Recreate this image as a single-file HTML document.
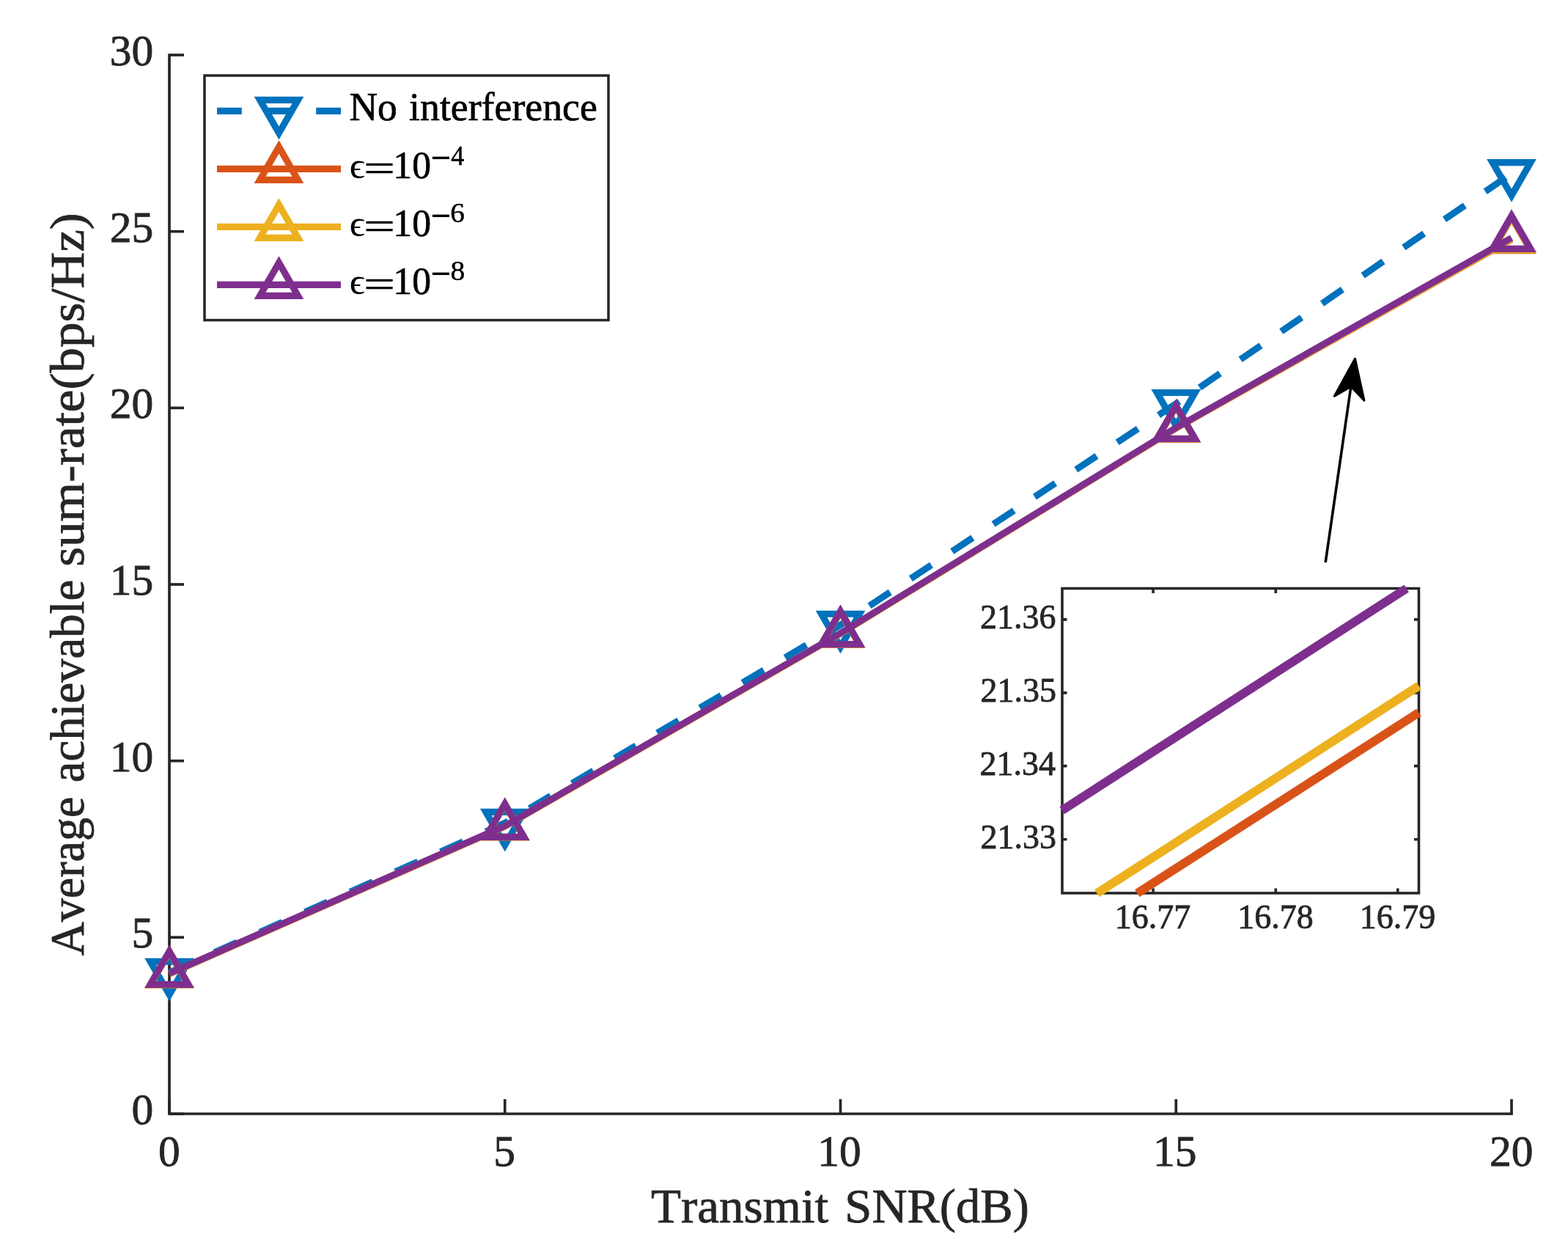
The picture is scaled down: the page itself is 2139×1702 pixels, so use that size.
<!DOCTYPE html><html><head><meta charset="utf-8"><style>html,body{margin:0;padding:0;background:#fff;}svg{display:block;}</style></head><body><svg width="2139" height="1702" viewBox="0 0 2139 1702" style="font-family:&quot;Liberation Serif&quot;,serif;font-kerning:none;font-variant-ligatures:none">
<rect x="0" y="0" width="2139" height="1702" fill="#ffffff"/>
<g stroke="#262626" stroke-width="3.7" fill="none">
<path d="M231,73.2 V1520.85 M229.15,1519 H2063.85"/>
<path d="M231,1519.00 H251"/>
<path d="M231,1278.33 H251"/>
<path d="M231,1037.67 H251"/>
<path d="M231,797.00 H251"/>
<path d="M231,556.33 H251"/>
<path d="M231,315.67 H251"/>
<path d="M231,75.00 H251"/>
<path d="M231.00,1519 V1499"/>
<path d="M688.75,1519 V1499"/>
<path d="M1146.50,1519 V1499"/>
<path d="M1604.25,1519 V1499"/>
<path d="M2062.00,1519 V1499"/>
</g>
<polyline points="231.00,1326.40 688.75,1122.40 1146.50,852.30 1604.25,550.50 2062.00,236.60" fill="none" stroke="#0072BD" stroke-width="9.1" stroke-linejoin="miter" stroke-linecap="butt" stroke-dasharray="33.75 33.75"/>
<polygon points="205.00,1311.39 257.00,1311.39 231.00,1356.42" fill="none" stroke="#0072BD" stroke-width="9.1" stroke-linejoin="miter" stroke-miterlimit="10"/>
<polygon points="662.75,1107.39 714.75,1107.39 688.75,1152.42" fill="none" stroke="#0072BD" stroke-width="9.1" stroke-linejoin="miter" stroke-miterlimit="10"/>
<polygon points="1120.50,837.29 1172.50,837.29 1146.50,882.32" fill="none" stroke="#0072BD" stroke-width="9.1" stroke-linejoin="miter" stroke-miterlimit="10"/>
<polygon points="1578.25,535.49 1630.25,535.49 1604.25,580.52" fill="none" stroke="#0072BD" stroke-width="9.1" stroke-linejoin="miter" stroke-miterlimit="10"/>
<polygon points="2036.00,221.59 2088.00,221.59 2062.00,266.62" fill="none" stroke="#0072BD" stroke-width="9.1" stroke-linejoin="miter" stroke-miterlimit="10"/>
<polyline points="231.00,1328.20 688.75,1127.00 1146.50,864.20 1604.25,584.10 2062.00,326.60" fill="none" stroke="#D95319" stroke-width="9.1" stroke-linejoin="miter" stroke-linecap="butt"/>
<polygon points="231.00,1298.18 205.00,1343.21 257.00,1343.21" fill="none" stroke="#D95319" stroke-width="9.1" stroke-linejoin="miter" stroke-miterlimit="10"/>
<polygon points="688.75,1096.98 662.75,1142.01 714.75,1142.01" fill="none" stroke="#D95319" stroke-width="9.1" stroke-linejoin="miter" stroke-miterlimit="10"/>
<polygon points="1146.50,834.18 1120.50,879.21 1172.50,879.21" fill="none" stroke="#D95319" stroke-width="9.1" stroke-linejoin="miter" stroke-miterlimit="10"/>
<polygon points="1604.25,554.08 1578.25,599.11 1630.25,599.11" fill="none" stroke="#D95319" stroke-width="9.1" stroke-linejoin="miter" stroke-miterlimit="10"/>
<polygon points="2062.00,296.58 2036.00,341.61 2088.00,341.61" fill="none" stroke="#D95319" stroke-width="9.1" stroke-linejoin="miter" stroke-miterlimit="10"/>
<polyline points="231.00,1328.00 688.75,1126.80 1146.50,864.00 1604.25,583.90 2062.00,326.00" fill="none" stroke="#EDB120" stroke-width="9.1" stroke-linejoin="miter" stroke-linecap="butt"/>
<polygon points="231.00,1297.98 205.00,1343.01 257.00,1343.01" fill="none" stroke="#EDB120" stroke-width="9.1" stroke-linejoin="miter" stroke-miterlimit="10"/>
<polygon points="688.75,1096.78 662.75,1141.81 714.75,1141.81" fill="none" stroke="#EDB120" stroke-width="9.1" stroke-linejoin="miter" stroke-miterlimit="10"/>
<polygon points="1146.50,833.98 1120.50,879.01 1172.50,879.01" fill="none" stroke="#EDB120" stroke-width="9.1" stroke-linejoin="miter" stroke-miterlimit="10"/>
<polygon points="1604.25,553.88 1578.25,598.91 1630.25,598.91" fill="none" stroke="#EDB120" stroke-width="9.1" stroke-linejoin="miter" stroke-miterlimit="10"/>
<polygon points="2062.00,295.98 2036.00,341.01 2088.00,341.01" fill="none" stroke="#EDB120" stroke-width="9.1" stroke-linejoin="miter" stroke-miterlimit="10"/>
<polyline points="231.00,1327.60 688.75,1126.40 1146.50,863.60 1604.25,583.40 2062.00,324.40" fill="none" stroke="#7E2F8E" stroke-width="9.1" stroke-linejoin="miter" stroke-linecap="butt"/>
<polygon points="231.00,1297.58 205.00,1342.61 257.00,1342.61" fill="none" stroke="#7E2F8E" stroke-width="9.1" stroke-linejoin="miter" stroke-miterlimit="10"/>
<polygon points="688.75,1096.38 662.75,1141.41 714.75,1141.41" fill="none" stroke="#7E2F8E" stroke-width="9.1" stroke-linejoin="miter" stroke-miterlimit="10"/>
<polygon points="1146.50,833.58 1120.50,878.61 1172.50,878.61" fill="none" stroke="#7E2F8E" stroke-width="9.1" stroke-linejoin="miter" stroke-miterlimit="10"/>
<polygon points="1604.25,553.38 1578.25,598.41 1630.25,598.41" fill="none" stroke="#7E2F8E" stroke-width="9.1" stroke-linejoin="miter" stroke-miterlimit="10"/>
<polygon points="2062.00,294.38 2036.00,339.41 2088.00,339.41" fill="none" stroke="#7E2F8E" stroke-width="9.1" stroke-linejoin="miter" stroke-miterlimit="10"/>
<text transform="translate(216.12,1590.20) scale(1.0000,1.0000)" font-size="59.50" fill="#262626" stroke="#262626" stroke-width="0.8">0</text>
<text transform="translate(673.31,1590.20) scale(1.0000,1.0000)" font-size="59.50" fill="#262626" stroke="#262626" stroke-width="0.8">5</text>
<text transform="translate(1115.27,1590.20) scale(1.0000,1.0000)" font-size="59.50" fill="#262626" stroke="#262626" stroke-width="0.8">10</text>
<text transform="translate(1573.05,1590.20) scale(1.0000,1.0000)" font-size="59.50" fill="#262626" stroke="#262626" stroke-width="0.8">15</text>
<text transform="translate(2032.08,1590.20) scale(1.0000,1.0000)" font-size="59.50" fill="#262626" stroke="#262626" stroke-width="0.8">20</text>
<text transform="translate(179.52,1533.00) scale(1.0000,1.0000)" font-size="59.50" fill="#262626" stroke="#262626" stroke-width="0.8">0</text>
<text transform="translate(179.57,1292.33) scale(1.0000,1.0000)" font-size="59.50" fill="#262626" stroke="#262626" stroke-width="0.8">5</text>
<text transform="translate(149.77,1051.67) scale(1.0000,1.0000)" font-size="59.50" fill="#262626" stroke="#262626" stroke-width="0.8">10</text>
<text transform="translate(149.82,811.00) scale(1.0000,1.0000)" font-size="59.50" fill="#262626" stroke="#262626" stroke-width="0.8">15</text>
<text transform="translate(149.77,570.33) scale(1.0000,1.0000)" font-size="59.50" fill="#262626" stroke="#262626" stroke-width="0.8">20</text>
<text transform="translate(149.82,329.67) scale(1.0000,1.0000)" font-size="59.50" fill="#262626" stroke="#262626" stroke-width="0.8">25</text>
<text transform="translate(149.77,89.00) scale(1.0000,1.0000)" font-size="59.50" fill="#262626" stroke="#262626" stroke-width="0.8">30</text>
<text transform="translate(887.89,1666.80) scale(1.0266,1.0000)" font-size="65.40" fill="#262626" stroke="#262626" stroke-width="0.8">Transmit</text>
<text transform="translate(1152.35,1666.80) scale(1.0181,1.0000)" font-size="65.40" fill="#262626" stroke="#262626" stroke-width="0.8">SNR(dB)</text>
<text transform="translate(114.00,1303.43) rotate(-90) scale(0.9790,1)" font-size="65.40" fill="#262626" stroke="#262626" stroke-width="0.8">Average</text>
<text transform="translate(114.00,1067.27) rotate(-90) scale(0.9894,1)" font-size="65.40" fill="#262626" stroke="#262626" stroke-width="0.8">achievable</text>
<text transform="translate(114.00,772.83) rotate(-90) scale(1.0547,1)" font-size="65.40" fill="#262626" stroke="#262626" stroke-width="0.8">sum-rate(bps/Hz)</text>
<rect x="279" y="103" width="551" height="333.6" fill="#ffffff" stroke="#262626" stroke-width="3.5"/>
<path d="M296,151.4 H465" stroke="#0072BD" stroke-width="9.1" stroke-dasharray="33.8 33.8" fill="none"/>
<polygon points="354.50,136.39 406.50,136.39 380.50,181.42" fill="none" stroke="#0072BD" stroke-width="9.1" stroke-linejoin="miter" stroke-miterlimit="10"/>
<path d="M296,230.4 H465" stroke="#D95319" stroke-width="9.1" fill="none"/>
<polygon points="380.50,200.38 354.50,245.41 406.50,245.41" fill="none" stroke="#D95319" stroke-width="9.1" stroke-linejoin="miter" stroke-miterlimit="10"/>
<path d="M296,309.4 H465" stroke="#EDB120" stroke-width="9.1" fill="none"/>
<polygon points="380.50,279.38 354.50,324.41 406.50,324.41" fill="none" stroke="#EDB120" stroke-width="9.1" stroke-linejoin="miter" stroke-miterlimit="10"/>
<path d="M296,388.4 H465" stroke="#7E2F8E" stroke-width="9.1" fill="none"/>
<polygon points="380.50,358.38 354.50,403.41 406.50,403.41" fill="none" stroke="#7E2F8E" stroke-width="9.1" stroke-linejoin="miter" stroke-miterlimit="10"/>
<text transform="translate(476.46,163.90) scale(0.9815,1.0000)" font-size="54.50" fill="#000" stroke="#000" stroke-width="0.7">No</text>
<text transform="translate(558.07,163.90) scale(0.9870,1.0000)" font-size="54.50" fill="#000" stroke="#000" stroke-width="0.7">interference</text>
<text transform="translate(476.81,243.27) scale(0.9607,0.9099)" font-size="54.50" fill="#000">ϵ</text>
<text transform="translate(496.14,246.76) scale(1.3840,0.9578)" font-size="54.50" fill="#000" stroke="#000" stroke-width="0.7">=</text>
<text transform="translate(536.36,243.38) scale(0.9468,0.9843)" font-size="54.50" fill="#000" stroke="#000" stroke-width="0.7">10</text>
<text transform="translate(587.43,238.07) scale(1.3064,1.7965)" font-size="38.00" fill="#000">−</text>
<text transform="translate(615.29,224.80) scale(0.9511,0.9995)" font-size="38.00" fill="#000" stroke="#000" stroke-width="0.48999999999999994">4</text>
<text transform="translate(476.81,322.27) scale(0.9607,0.9099)" font-size="54.50" fill="#000">ϵ</text>
<text transform="translate(496.14,325.76) scale(1.3840,0.9578)" font-size="54.50" fill="#000" stroke="#000" stroke-width="0.7">=</text>
<text transform="translate(536.36,322.38) scale(0.9468,0.9843)" font-size="54.50" fill="#000" stroke="#000" stroke-width="0.7">10</text>
<text transform="translate(587.43,317.07) scale(1.3064,1.7965)" font-size="38.00" fill="#000">−</text>
<text transform="translate(614.31,303.44) scale(1.0348,0.9792)" font-size="38.00" fill="#000" stroke="#000" stroke-width="0.48999999999999994">6</text>
<text transform="translate(476.81,401.27) scale(0.9607,0.9099)" font-size="54.50" fill="#000">ϵ</text>
<text transform="translate(496.14,404.76) scale(1.3840,0.9578)" font-size="54.50" fill="#000" stroke="#000" stroke-width="0.7">=</text>
<text transform="translate(536.36,401.38) scale(0.9468,0.9843)" font-size="54.50" fill="#000" stroke="#000" stroke-width="0.7">10</text>
<text transform="translate(587.43,396.07) scale(1.3064,1.7965)" font-size="38.00" fill="#000">−</text>
<text transform="translate(614.49,382.44) scale(1.0431,0.9749)" font-size="38.00" fill="#000" stroke="#000" stroke-width="0.48999999999999994">8</text>
<path d="M1808.2,766.9 L1843.5,523" stroke="#000" stroke-width="3.6" fill="none"/>
<polygon points="1848.48,489.18 1820.37,540.17 1842.96,527.28 1860.95,546.06" fill="#000" stroke="#000" stroke-width="3" stroke-linejoin="round"/>
<rect x="1449" y="802.5" width="486.5" height="415.5" fill="#ffffff"/>
<g stroke="#262626" stroke-width="3.6" fill="none">
<rect x="1449" y="802.5" width="486.5" height="415.5"/>
<path d="M1573.1,1218 V1211.5 M1573.1,802.5 V809.0"/>
<path d="M1740.3,1218 V1211.5 M1740.3,802.5 V809.0"/>
<path d="M1906.8,1218 V1211.5 M1906.8,802.5 V809.0"/>
<path d="M1449,844.9 H1455.5 M1935.5,844.9 H1929.0"/>
<path d="M1449,944.9 H1455.5 M1935.5,944.9 H1929.0"/>
<path d="M1449,1044.6 H1455.5 M1935.5,1044.6 H1929.0"/>
<path d="M1449,1144.7 H1455.5 M1935.5,1144.7 H1929.0"/>
</g>
<path d="M1496.4,1218.3 L1935.5,935.4" stroke="#EDB120" stroke-width="12.0" fill="none"/>
<path d="M1551.3,1218.3 L1935.5,971.8" stroke="#D95319" stroke-width="12.0" fill="none"/>
<path d="M1448.7,1105.2 L1918.7,802.5" stroke="#7E2F8E" stroke-width="12.0" fill="none"/>
<text transform="translate(1520.79,1265.80) scale(1.0000,1.0000)" font-size="46.00" fill="#262626" stroke="#262626" stroke-width="0.8">16.77</text>
<text transform="translate(1688.20,1265.80) scale(1.0000,1.0000)" font-size="46.00" fill="#262626" stroke="#262626" stroke-width="0.8">16.78</text>
<text transform="translate(1854.77,1265.80) scale(1.0000,1.0000)" font-size="46.00" fill="#262626" stroke="#262626" stroke-width="0.8">16.79</text>
<text transform="translate(1337.07,856.80) scale(1.0000,1.0000)" font-size="46.00" fill="#262626" stroke="#262626" stroke-width="0.8">21.36</text>
<text transform="translate(1337.50,956.80) scale(1.0000,1.0000)" font-size="46.00" fill="#262626" stroke="#262626" stroke-width="0.8">21.35</text>
<text transform="translate(1336.42,1056.50) scale(1.0000,1.0000)" font-size="46.00" fill="#262626" stroke="#262626" stroke-width="0.8">21.34</text>
<text transform="translate(1337.50,1156.60) scale(1.0000,1.0000)" font-size="46.00" fill="#262626" stroke="#262626" stroke-width="0.8">21.33</text>
</svg></body></html>
